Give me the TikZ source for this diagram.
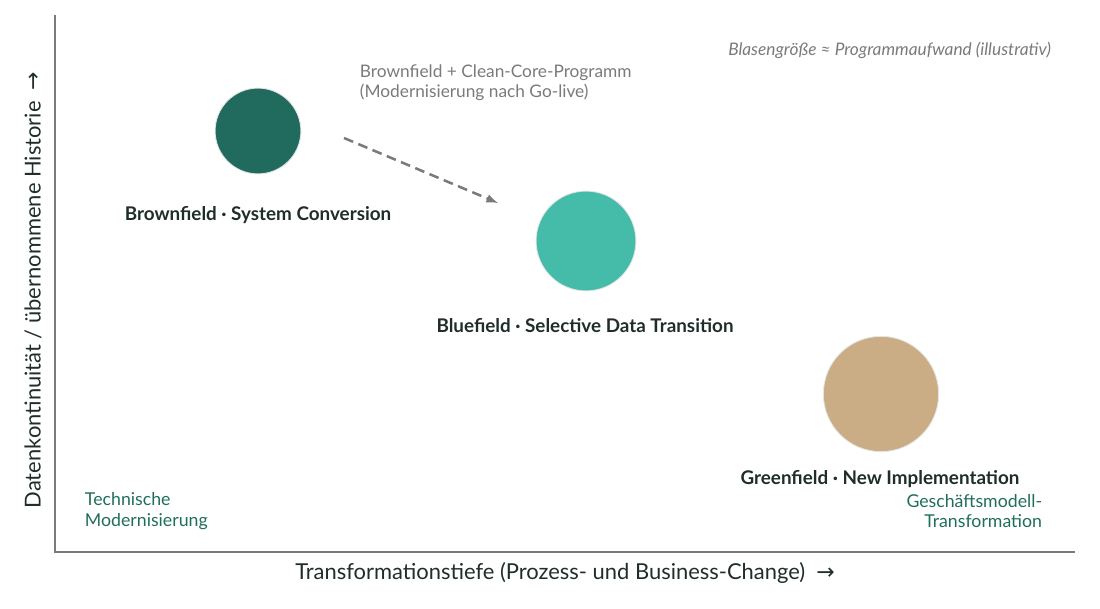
\documentclass[tikz,border=0pt]{standalone}
\usepackage{fontspec}
\setmainfont{Lato}
\newfontfamily\symfont{DejaVu Sans}
\usetikzlibrary{calc}
\definecolor{darkgreen}{HTML}{206B5E}
\definecolor{teal}{HTML}{45BCAA}
\definecolor{tan}{HTML}{CBAD85}
\definecolor{inktext}{HTML}{1F2D2B}
\definecolor{notegreen}{HTML}{1F6E5C}
\definecolor{axisgray}{HTML}{7A7A7A}

\begin{document}
\begin{tikzpicture}[x=0.025cm,y=-0.025cm,
   bubble/.style={circle,draw=white!90!black,line width=0.6pt,inner sep=0pt},
   bubblename/.style={font=\fontsize{13.4}{15}\selectfont\bfseries,text=inktext},
   note/.style={font=\fontsize{12.6}{14.5}\selectfont,text=notegreen,align=left}
    ]
  \useasboundingbox (0,0) rectangle (1100,609);

  % -- axes
  \coordinate (o) at (55,552);
  \coordinate (ytop) at (55,15);
  \coordinate (xend) at (1075,552);
  \draw[axisgray,line width=1pt] (ytop) -- (o) -- (xend);

  % -- bubbles
  \node[bubble,fill=darkgreen,minimum size=61pt] at (258,131) (brown) {};
  \node[bubble,fill=teal,minimum size=71pt] at (586,241) (blue) {};
  \node[bubble,fill=tan,minimum size=82pt] at (881,394) (green) {};

  % -- bubble names
  \node[bubblename] at (258,215) (brownlbl) {Brownfield · System Conversion};
  \node[bubblename] at (585,326) (bluelbl) {Bluefield · Selective Data Transition};
  \node[bubblename] at (880,479) (greenlbl) {Greenfield · New Implementation};

  % -- clean-core path
  \coordinate (pstart) at (344,138);
  \coordinate (pend) at (498,203);
  \draw[axisgray,line width=1.8pt,dash pattern=on 7pt off 4pt,-latex] (pstart) -- (pend);
  \node[anchor=west,align=left,text=axisgray,font=\fontsize{12.3}{14.5}\selectfont]
    at (355,83) (pathlbl) {Brownfield + Clean-Core-Programm\\(Modernisierung nach Go-live)};

  % -- labels
  \node[anchor=east,text=axisgray,font=\fontsize{12.3}{14}\selectfont\itshape]
    at (1056,50) (legend) {Blasengröße ≈ Programmaufwand (illustrativ)};
  \node[note,anchor=west] at (80,511) (lefttag) {Technische\\Modernisierung};
  \node[note,anchor=east,align=right] at (1047,511) (righttag) {Geschäftsmodell-\\Transformation};
  \node[text=inktext,font=\fontsize{15.6}{18}\selectfont] at (565,573) (xlbl)
    {Transformationstiefe (Prozess- und Business-Change) \ {\symfont →}};
  \node[text=inktext,font=\fontsize{15.6}{18}\selectfont,rotate=90] at (33,290) (ylbl)
    {Datenkontinuität / übernommene Historie \ {\symfont →}};

\end{tikzpicture}
\end{document}
